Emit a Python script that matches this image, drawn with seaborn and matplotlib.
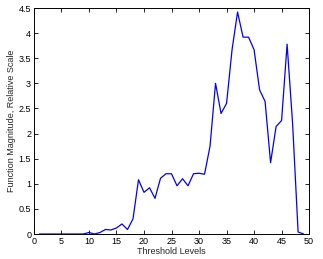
import matplotlib
matplotlib.use("Agg")
import matplotlib.pyplot as plt
import seaborn as sns
import pandas as pd

# threshold levels and the function magnitude
levels = list(range(1, 50))
magnitude = [0, 0, 0, 0, 0, 0, 0, 0, 0, 0.03,
             0.0, 0.03, 0.09, 0.08, 0.12, 0.2, 0.09, 0.3, 1.08, 0.83,
             0.92, 0.71, 1.11, 1.2, 1.2, 0.96, 1.1, 0.96, 1.2, 1.21,
             1.19, 1.75, 3.0, 2.4, 2.6, 3.67, 4.42, 3.92, 3.92, 3.67,
             2.87, 2.64, 1.42, 2.14, 2.26, 3.78, 2.2, 0.04, 0.0]

df = pd.DataFrame({"level": levels, "magnitude": magnitude})

sns.set_style("ticks")
plt.rcParams["font.family"] = ["Liberation Sans", "DejaVu Sans"]

fig = plt.figure(figsize=(3.23, 2.59), dpi=100)
ax = fig.add_axes([0.105, 0.0965, 0.852, 0.8725])
sns.lineplot(data=df, x="level", y="magnitude", color="#0000ff", linewidth=0.9, ax=ax)

ax.set_xlim(0, 50)
ax.set_ylim(0, 4.5)
ax.set_xticks(range(0, 51, 5))
ax.set_yticks([0, 0.5, 1, 1.5, 2, 2.5, 3, 3.5, 4, 4.5])
ax.set_yticklabels(["0", "0.5", "1", "1.5", "2", "2.5", "3", "3.5", "4", "4.5"])
ax.set_xlabel("Threshold Levels", fontsize=6.5, labelpad=1)
ax.set_ylabel("Function Magnitude, Relative Scale", fontsize=6.5, labelpad=2)
ax.tick_params(direction="in", length=3, width=0.6, labelsize=6.5, pad=2,
               top=True, right=True, colors="black")
for s in ax.spines.values():
    s.set_visible(True)
    s.set_linewidth(0.7)
    s.set_color("black")

fig.savefig("out.png", dpi=100)
